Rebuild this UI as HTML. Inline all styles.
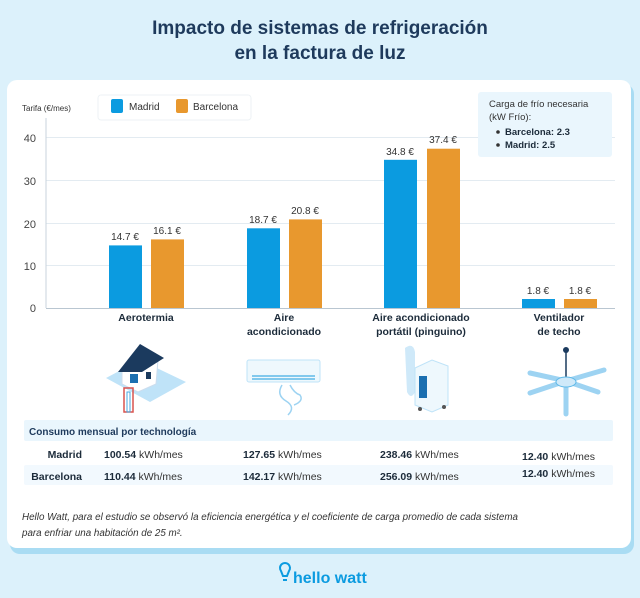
<!DOCTYPE html>
<html><head><meta charset="utf-8"><style>
*{margin:0;padding:0;box-sizing:border-box}
body{width:640px;height:598px;background:#dcf1fb;font-family:"Liberation Sans",sans-serif;position:relative;overflow:hidden;color:#1c3550}
.t{position:absolute;white-space:nowrap}
</style></head><body>
<div class="t" style="left:0;width:640px;top:16px;text-align:center;font-size:19px;font-weight:bold;line-height:25px;color:#1e3a5c">Impacto de sistemas de refrigeración<br>en la factura de luz</div>
<div style="position:absolute;left:10px;top:84px;width:624px;height:470px;border-radius:10px;background:#a9dcf3"></div>
<div style="position:absolute;left:7px;top:80px;width:624px;height:468px;border-radius:10px;background:#fff"></div>
<svg width="640" height="598" style="position:absolute;left:0;top:0" font-family="Liberation Sans, sans-serif">
<g stroke="#e3ebf1" stroke-width="1">
<line x1="46" x2="615" y1="137.5" y2="137.5"/><line x1="46" x2="615" y1="180.5" y2="180.5"/><line x1="46" x2="615" y1="223.5" y2="223.5"/><line x1="46" x2="615" y1="265.5" y2="265.5"/>
</g>
<line x1="46" x2="46" y1="118" y2="308" stroke="#c8d3dc"/>
<line x1="46" x2="615" y1="308.5" y2="308.5" stroke="#b9c6d1"/>
<g font-size="11" fill="#444" text-anchor="end">
<text x="36" y="142">40</text><text x="36" y="185">30</text><text x="36" y="228">20</text><text x="36" y="270">10</text><text x="36" y="312">0</text>
</g>
<text x="22" y="111" font-size="8" fill="#333">Tarifa (€/mes)</text>
<g fill="#0b9be0">
<rect x="109" y="245.4" width="33" height="62.6"/><rect x="247" y="228.3" width="33" height="79.7"/><rect x="384" y="159.8" width="33" height="148.2"/><rect x="522" y="299" width="33" height="9"/>
</g>
<g fill="#e8982e">
<rect x="151" y="239.4" width="33" height="68.6"/><rect x="289" y="219.4" width="33" height="88.6"/><rect x="427" y="148.7" width="33" height="159.3"/><rect x="564" y="299" width="33" height="9"/>
</g>
<g font-size="10" fill="#333" text-anchor="middle">
<text x="125" y="240">14.7 €</text><text x="167" y="234">16.1 €</text>
<text x="263" y="223">18.7 €</text><text x="305" y="214">20.8 €</text>
<text x="400" y="155">34.8 €</text><text x="443" y="143">37.4 €</text>
<text x="538" y="294">1.8 €</text><text x="580" y="294">1.8 €</text>
</g>
<g font-size="10.5" font-weight="bold" fill="#1c2b3a" text-anchor="middle">
<text x="146" y="321">Aerotermia</text>
<text x="284" y="321">Aire</text><text x="284" y="335">acondicionado</text>
<text x="421" y="321">Aire acondicionado</text><text x="421" y="335">portátil (pinguino)</text>
<text x="559" y="321">Ventilador</text><text x="559" y="335">de techo</text>
</g>
<rect x="98" y="95" width="153" height="25" rx="3" fill="#fff" stroke="#eef2f5"/>
<rect x="111" y="99" width="12" height="14" rx="2" fill="#0b9be0"/>
<text x="129" y="110" font-size="10" fill="#333">Madrid</text>
<rect x="176" y="99" width="12" height="14" rx="2" fill="#e8982e"/>
<text x="193" y="110" font-size="10" fill="#333">Barcelona</text>
<rect x="478" y="92" width="134" height="65" rx="3" fill="#eaf6fd"/>
<text x="489" y="107" font-size="9.5" fill="#333">Carga de frío necesaria</text>
<text x="489" y="120" font-size="9.5" fill="#333">(kW Frío):</text>
<circle cx="498" cy="132" r="1.8" fill="#333"/><text x="505" y="135" font-size="9.5" font-weight="bold" fill="#1c2b3a">Barcelona: 2.3</text>
<circle cx="498" cy="145" r="1.8" fill="#333"/><text x="505" y="148" font-size="9.5" font-weight="bold" fill="#1c2b3a">Madrid: 2.5</text>
<g>
<polygon points="106,378 140,360 186,382 150,402" fill="#bfe3f8"/>
<polygon points="122,368 138,352 158,360 156,384 138,392 122,384" fill="#fff" stroke="#cde"/>
<polygon points="118,372 140,344 164,358 142,372" fill="#1b3a5e"/>
<rect x="130" y="374" width="8" height="9" fill="#1b6fb0"/>
<rect x="146" y="372" width="5" height="7" fill="#1b3a5e"/>
<rect x="124" y="388" width="9" height="24" fill="none" stroke="#d9534f" stroke-width="1.5"/>
<rect x="127" y="392" width="3" height="20" fill="none" stroke="#4aa9e0" stroke-width="1"/>
</g>
<g>
<rect x="247" y="360" width="73" height="22" rx="2" fill="#eef8fd" stroke="#bfe3f8"/>
<line x1="252" y1="376" x2="315" y2="376" stroke="#5fb9e8" stroke-width="1.5"/>
<line x1="252" y1="379" x2="315" y2="379" stroke="#5fb9e8" stroke-width="1.5"/>
<path d="M282,385 q-6,10 4,16 q10,6 2,14 M290,385 q4,8 10,10 q4,6 -6,10" fill="none" stroke="#9dd3f2" stroke-width="1.5"/>
</g>
<g>
<path d="M405,348 q8,-6 10,4 l0,40 q-4,8 -8,0 z" fill="#cfe9f9"/>
<polygon points="415,368 432,360 448,366 448,405 432,412 415,405" fill="#eef8fd" stroke="#bfe3f8"/>
<rect x="419" y="376" width="8" height="22" fill="#1b6fb0"/>
<circle cx="420" cy="409" r="2" fill="#555"/><circle cx="444" cy="407" r="2" fill="#555"/>
</g>
<g stroke="#9dd3f2" stroke-width="5" stroke-linecap="round">
<line x1="566" y1="381" x2="530" y2="373"/><line x1="566" y1="381" x2="604" y2="370"/><line x1="566" y1="381" x2="530" y2="393"/><line x1="566" y1="381" x2="598" y2="392"/><line x1="566" y1="381" x2="566" y2="414"/>
</g>
<line x1="566" y1="350" x2="566" y2="378" stroke="#1b3a5e" stroke-width="1.5"/>
<circle cx="566" cy="350" r="3" fill="#1b3a5e"/>
<ellipse cx="566" cy="382" rx="10" ry="5" fill="#cfe9f9" stroke="#5fb9e8"/>
<rect x="24" y="420" width="589" height="21" rx="2" fill="#eaf6fd"/>
<rect x="24" y="465" width="589" height="20" rx="2" fill="#f2f9fe"/>
<text x="29" y="435" font-size="10" font-weight="bold" fill="#1e3a5c">Consumo mensual por technología</text>
<g font-size="10.5">
<text x="82" y="458" text-anchor="end" font-weight="bold" fill="#1c2b3a">Madrid</text>
<text x="82" y="480" text-anchor="end" font-weight="bold" fill="#1c2b3a">Barcelona</text>
<text x="104" y="458" fill="#333"><tspan font-weight="bold" fill="#1c2b3a">100.54</tspan> kWh/mes</text>
<text x="243" y="458" fill="#333"><tspan font-weight="bold" fill="#1c2b3a">127.65</tspan> kWh/mes</text>
<text x="380" y="458" fill="#333"><tspan font-weight="bold" fill="#1c2b3a">238.46</tspan> kWh/mes</text>
<text x="522" y="460" fill="#333"><tspan font-weight="bold" fill="#1c2b3a">12.40</tspan> kWh/mes</text>
<text x="104" y="480" fill="#333"><tspan font-weight="bold" fill="#1c2b3a">110.44</tspan> kWh/mes</text>
<text x="243" y="480" fill="#333"><tspan font-weight="bold" fill="#1c2b3a">142.17</tspan> kWh/mes</text>
<text x="380" y="480" fill="#333"><tspan font-weight="bold" fill="#1c2b3a">256.09</tspan> kWh/mes</text>
<text x="522" y="477" fill="#333"><tspan font-weight="bold" fill="#1c2b3a">12.40</tspan> kWh/mes</text>
</g>
<g font-size="9.8" font-style="italic" fill="#333">
<text x="22" y="520" textLength="496">Hello Watt, para el estudio se observó la eficiencia energética y el coeficiente de carga promedio de cada sistema</text>
<text x="22" y="536">para enfriar una habitación de 25 m².</text>
</g>
<path d="M281,571 a5,5 0 1,1 8,0 l-2,5 h-4 z" fill="none" stroke="#0b9be0" stroke-width="2"/>
<line x1="283" y1="580" x2="287" y2="580" stroke="#0b9be0" stroke-width="2"/>
<text x="293" y="583" font-size="16" font-weight="bold" fill="#0b9be0">hello watt</text>
</svg>
</body></html>
